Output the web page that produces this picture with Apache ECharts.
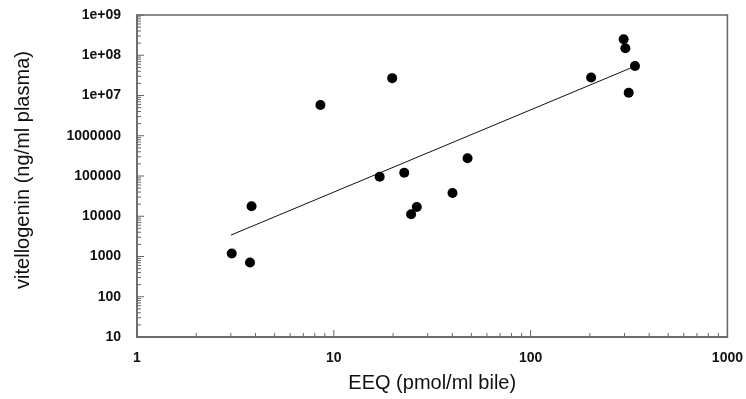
<!DOCTYPE html>
<html>
<head>
<meta charset="utf-8">
<script src="https://cdn.jsdelivr.net/npm/echarts@6/dist/echarts.min.js"></script>
<style>
html,body{margin:0;padding:0;background:#fff;}
#chart{width:746px;height:399px;}
</style>
</head>
<body>
<div id="chart"></div>
<script>
// EEQ (pmol/ml bile) vs vitellogenin (ng/ml plasma)
const eeq = [3.03, 3.75, 3.82, 8.55, 19.8, 17.1, 22.8, 24.7, 26.4, 40.1, 47.8, 203, 297, 303, 315, 339];
const vtg = [1190, 710, 17800, 5.8e6, 2.7e7, 95500, 120000, 11200, 17000, 38000, 277000, 2.8e7, 2.5e8, 1.5e8, 1.17e7, 5.4e7];
// regression line end points
const fitX = [3.0, 322];
const fitY = [3400, 4.8e7];
// axis ranges / tick values
const xMin = 1, xMax = 1000;
const yMin = 10, yMax = 1e9;
const xMajorTicks = [1, 10, 100, 1000];
const yMajorTicks = [10, 100, 1000, 1e4, 1e5, 1e6, 1e7, 1e8, 1e9];
const xMinorTicks = [2,3,4,5,6,7,8,9,20,30,40,50,60,70,80,90,200,300,400,500,600,700,800,900];
const yMinorTicks = [];
for (let d = 10; d < 1e9; d *= 10) { for (let k = 2; k <= 9; k++) yMinorTicks.push(k * d); }

const chart = echarts.init(document.getElementById('chart'), null, {renderer: 'canvas'});
const axisColor = '#666666';
const font = 'Liberation Sans, Arial, sans-serif';

function yFmt(v) {
  const e = Math.round(Math.log10(v));
  if (e >= 7) return '1e+' + String(e).padStart(2, '0');
  return String(Math.round(v));
}

const tickSeries = (data, isX, len) => ({
  type: 'custom',
  coordinateSystem: 'cartesian2d',
  silent: true,
  clip: false,
  z: 1,
  data: data,
  renderItem: function (params, api) {
    const p = api.coord([api.value(0), api.value(1)]);
    return {
      type: 'line',
      shape: isX ? {x1: p[0], y1: p[1], x2: p[0], y2: p[1] - len}
                 : {x1: p[0], y1: p[1], x2: p[0] + len, y2: p[1]},
      style: {stroke: axisColor, lineWidth: 1}
    };
  }
});

chart.setOption({
  animation: false,
  backgroundColor: '#fff',
  grid: {left: 137, right: 17, top: 15, bottom: 62, show: true, borderColor: axisColor, borderWidth: 1.5},
  xAxis: {
    type: 'log', logBase: 10, min: xMin, max: xMax, splitNumber: 3,
    axisLine: {show: true, lineStyle: {color: axisColor, width: 1.5}},
    axisTick: {show: false},
    splitLine: {show: false},
    axisLabel: {color: '#111', fontFamily: font, fontSize: 14, fontWeight: 'bold', margin: 14,
      formatter: v => String(Math.round(v))},
    name: 'EEQ (pmol/ml bile)', nameLocation: 'middle', nameGap: 36,
    nameTextStyle: {color: '#111', fontFamily: font, fontSize: 20}
  },
  yAxis: {
    type: 'log', logBase: 10, min: yMin, max: yMax, splitNumber: 8,
    axisLine: {show: true, lineStyle: {color: axisColor, width: 1.5}},
    axisTick: {show: false},
    splitLine: {show: false},
    axisLabel: {color: '#111', fontFamily: font, fontSize: 14, fontWeight: 'bold', margin: 16, formatter: yFmt},
    name: 'vitellogenin (ng/ml plasma)', nameLocation: 'middle', nameGap: 104, nameRotate: 90,
    nameTextStyle: {color: '#111', fontFamily: font, fontSize: 20, padding: [0, 0, 0, 12]}
  },
  series: [
    tickSeries(xMinorTicks.map(v => [v, yMin]), true, 4),
    tickSeries(yMinorTicks.map(v => [xMin, v]), false, 4),
    tickSeries(xMajorTicks.map(v => [v, yMin]), true, 7),
    tickSeries(yMajorTicks.map(v => [xMin, v]), false, 7),
    {
      type: 'line', data: fitX.map((x, i) => [x, fitY[i]]), showSymbol: false,
      lineStyle: {color: '#111', width: 1}, z: 2, silent: true
    },
    {
      type: 'scatter', data: eeq.map((x, i) => [x, vtg[i]]),
      symbol: 'circle', symbolSize: 10, itemStyle: {color: '#000', opacity: 1}, z: 3
    }
  ]
});
</script>
</body>
</html>
